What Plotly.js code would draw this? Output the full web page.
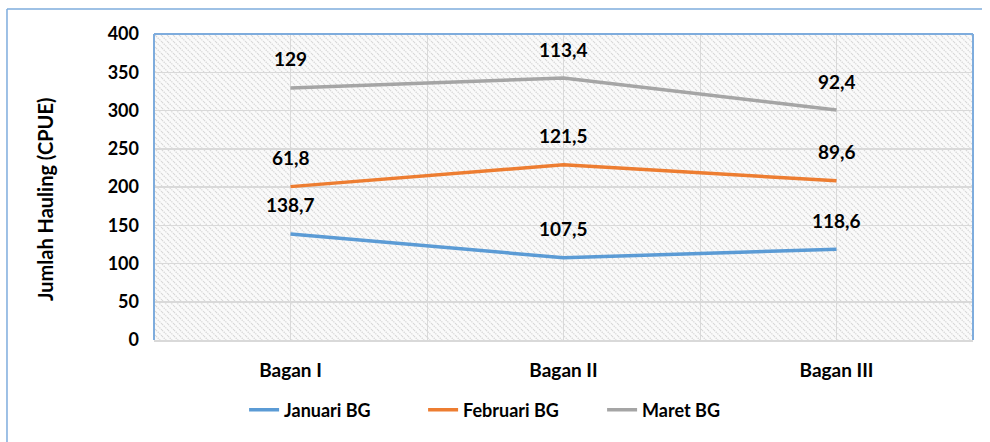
<!DOCTYPE html>
<html>
<head>
<meta charset="utf-8">
<script src="https://cdn.plot.ly/plotly-3.0.1.min.js"></script>
<style>
  html, body { margin: 0; padding: 0; background: #fff; }
  #chart { width: 990px; height: 442px; }
</style>
</head>
<body>
<div id="chart"></div>
<script>
// ---- data ----
const categories = ["Bagan I", "Bagan II", "Bagan III"];
const januari = [138.7, 107.5, 118.6];
const februari = [61.8, 121.5, 89.6];
const maret = [129, 113.4, 92.4];
const seriesNames = ["Januari BG", "Februari BG", "Maret BG"];
const yTicks = [0, 50, 100, 150, 200, 250, 300, 350, 400];

// ---- styles ----
const colors = ["#5B9BD5", "#ED7D31", "#A5A5A5"];
const FONT = "Lato, 'Open Sans', sans-serif";
const blue = "#7EACDD";

const series = [januari, februari, maret];
const xIdx = categories.map((c, i) => i);

const traces = series.map((vals, s) => ({
  type: "scatter",
  mode: "lines",
  name: seriesNames[s],
  x: xIdx,
  y: vals,
  stackgroup: "one",
  fill: "none",
  line: { color: colors[s], width: 3.5 },
  hoverinfo: "skip"
}));

// cumulative heights for label placement
const annotations = [];
const cum = categories.map(() => 0);
series.forEach((vals) => {
  vals.forEach((v, i) => {
    cum[i] += v;
    annotations.push({
      x: xIdx[i], y: cum[i], xref: "x", yref: "y",
      text: String(v).replace(".", ","),
      showarrow: false, yshift: 29,
      font: { family: FONT, size: 19, color: "#000", weight: "bold" }
    });
  });
});

annotations.push({
  xref: "paper", yref: "paper", x: -0.133, y: 0.4575,
  xanchor: "center", yanchor: "middle",
  text: "Jumlah Hauling (CPUE)", textangle: -90, showarrow: false,
  font: { family: FONT, size: 20, color: "#000", weight: "bold" }
});

const layout = {
  width: 990, height: 442,
  margin: { l: 154, r: 17, t: 34, b: 102 },
  paper_bgcolor: "#fff",
  plot_bgcolor: "#fff",
  font: { family: FONT, size: 18, color: "#000", weight: "bold" },
  showlegend: true,
  legend: {
    orientation: "h", x: 0.11, xanchor: "left", y: -0.229, yanchor: "middle",
    font: { family: FONT, size: 18, color: "#000", weight: "bold" },
    traceorder: "normal", entrywidth: 134, entrywidthmode: "pixels", tracegroupgap: 0
  },
  xaxis: {
    type: "linear", range: [-0.5, 2.5],
    tickvals: xIdx, ticktext: categories,
    tickfont: { family: FONT, size: 19, color: "#000", weight: "bold" },
    showgrid: true, gridcolor: "#d9d9d9", gridwidth: 1,
    minor: { tickvals: [-0.5, 0.5, 1.5, 2.5], showgrid: true, gridcolor: "#d9d9d9", gridwidth: 1, ticks: "" },
    zeroline: false, showline: true, linecolor: "#d9d9d9", linewidth: 1.5,
    ticks: "", ticklabelstandoff: 13, fixedrange: true
  },
  yaxis: {
    range: [0, 400], tickvals: yTicks,
    tickfont: { family: FONT, size: 18, color: "#000", weight: "bold" },
    showgrid: true, gridcolor: "#d9d9d9", gridwidth: 1.5,
    zeroline: false, showline: false,
    ticks: "", ticklabelstandoff: 14, fixedrange: true
  },
  shapes: [
    { type: "line", xref: "paper", yref: "paper", x0: 0, x1: 0, y0: 0, y1: 1, line: { color: blue, width: 2 } },
    { type: "line", xref: "paper", yref: "paper", x0: 0, x1: 1, y0: 1, y1: 1, line: { color: blue, width: 2 } },
    { type: "line", xref: "paper", yref: "paper", x0: 1, x1: 1, y0: 0, y1: 1, line: { color: blue, width: 2 } },
    { type: "line", xref: "paper", yref: "paper", x0: -0.1795, x1: -0.1795, y0: 1.0817, y1: -0.34, line: { color: blue, width: 1.5 } },
    { type: "line", xref: "paper", yref: "paper", x0: -0.1795, x1: 1.011, y0: 1.0817, y1: 1.0817, line: { color: blue, width: 1.5 } }
  ],
  annotations: annotations
};

Plotly.newPlot("chart", traces, layout, { displayModeBar: false, staticPlot: true }).then((gd) => {
  const svg = gd.querySelector("svg.main-svg");
  const NS = "http://www.w3.org/2000/svg";
  let defs = svg.querySelector("defs");
  if (!defs) { defs = document.createElementNS(NS, "defs"); svg.insertBefore(defs, svg.firstChild); }
  const pat = document.createElementNS(NS, "pattern");
  pat.setAttribute("id", "hatchbg");
  pat.setAttribute("patternUnits", "userSpaceOnUse");
  pat.setAttribute("width", "6");
  pat.setAttribute("height", "6");
  const bgr = document.createElementNS(NS, "rect");
  bgr.setAttribute("width", "6"); bgr.setAttribute("height", "6"); bgr.setAttribute("fill", "#fafafa");
  pat.appendChild(bgr);
  const ln = document.createElementNS(NS, "path");
  ln.setAttribute("d", "M0,0 L6,6 M-1,5 L1,7 M5,-1 L7,1");
  ln.setAttribute("stroke", "#d8d8d8");
  ln.setAttribute("stroke-width", "1.3");
  ln.setAttribute("stroke-dasharray", "1.4 1");
  pat.appendChild(ln);
  defs.appendChild(pat);
  const bgs = svg.querySelectorAll(".bglayer rect.bg");
  let done = false;
  bgs.forEach((b) => { b.style.fill = "url(#hatchbg)"; b.setAttribute("fill", "url(#hatchbg)"); done = true; });
  if (!done) {
    const sub = gd._fullLayout._size;
    const r = document.createElementNS(NS, "rect");
    r.setAttribute("x", sub.l); r.setAttribute("y", sub.t);
    r.setAttribute("width", sub.w); r.setAttribute("height", sub.h);
    r.setAttribute("fill", "url(#hatchbg)");
    const cart = svg.querySelector(".cartesianlayer");
    cart.parentNode.insertBefore(r, cart);
  }
});
</script>
</body>
</html>
